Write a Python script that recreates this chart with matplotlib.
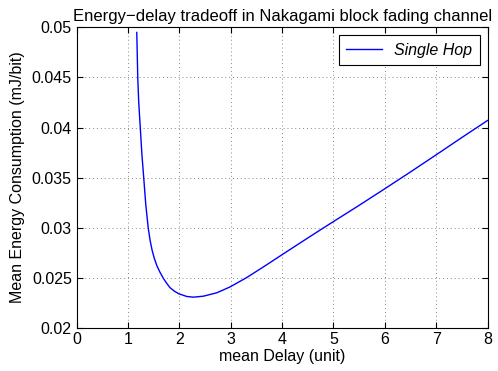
import matplotlib
matplotlib.use('Agg')
import matplotlib.pyplot as plt

plt.rcParams['font.family'] = ['Liberation Sans', 'DejaVu Sans']

# mean delay vs mean energy consumption
delay = [1.170, 1.189, 1.208, 1.238, 1.270, 1.305, 1.345, 1.392, 1.43, 1.47,
         1.51, 1.56, 1.62, 1.69, 1.75, 1.815, 1.90, 1.988, 2.144, 2.273,
         2.468, 2.729, 2.988, 3.31, 3.64, 4.0, 4.35, 4.74, 5.0, 5.5,
         6.0, 6.5, 7.0, 7.5, 8.0]
energy = [0.0495, 0.0450, 0.0425, 0.0400, 0.0373, 0.0350, 0.0323, 0.0300, 0.0287, 0.0277,
          0.02695, 0.0262, 0.02555, 0.0249, 0.02445, 0.0240, 0.02365, 0.02338, 0.02311, 0.02304,
          0.02314, 0.02348, 0.02407, 0.0250, 0.02608, 0.02729, 0.02846, 0.02975, 0.0306, 0.03222,
          0.03388, 0.03556, 0.03727, 0.0390, 0.0407]

fig = plt.figure(figsize=(4.98, 3.71), dpi=100)
ax = fig.add_axes([0.154, 0.117, 0.825, 0.809])
ax.plot(delay, energy, color='#0000ff', lw=1.0, label='Single Hop')
ax.set_xlim(0, 8)
ax.set_ylim(0.02, 0.05)
ax.set_xticks(range(0, 9))
ax.set_yticks([0.02, 0.025, 0.03, 0.035, 0.04, 0.045, 0.05])
ax.set_yticklabels(['0.02', '0.025', '0.03', '0.035', '0.04', '0.045', '0.05'])
ax.tick_params(direction='in', top=True, right=True, labelsize=11.5, length=4)
ax.grid(True, linestyle=(0, (1, 3)), color='#888888', lw=0.7)
ax.set_xlabel('mean Delay (unit)', fontsize=11.5, labelpad=1)
ax.set_ylabel('Mean Energy Consumption (mJ/bit)', fontsize=11.5, labelpad=5)
ax.set_title('Energy\u2212delay tradeoff in Nakagami block fading channel', fontsize=12, pad=5)
leg = ax.legend(loc='upper right', prop={'style': 'italic', 'size': 11.5},
                fancybox=False, edgecolor='black', framealpha=1,
                handlelength=2.2, borderaxespad=0.5, borderpad=0.45)
leg.get_frame().set_linewidth(0.8)

fig.savefig('out.png', dpi=100)
